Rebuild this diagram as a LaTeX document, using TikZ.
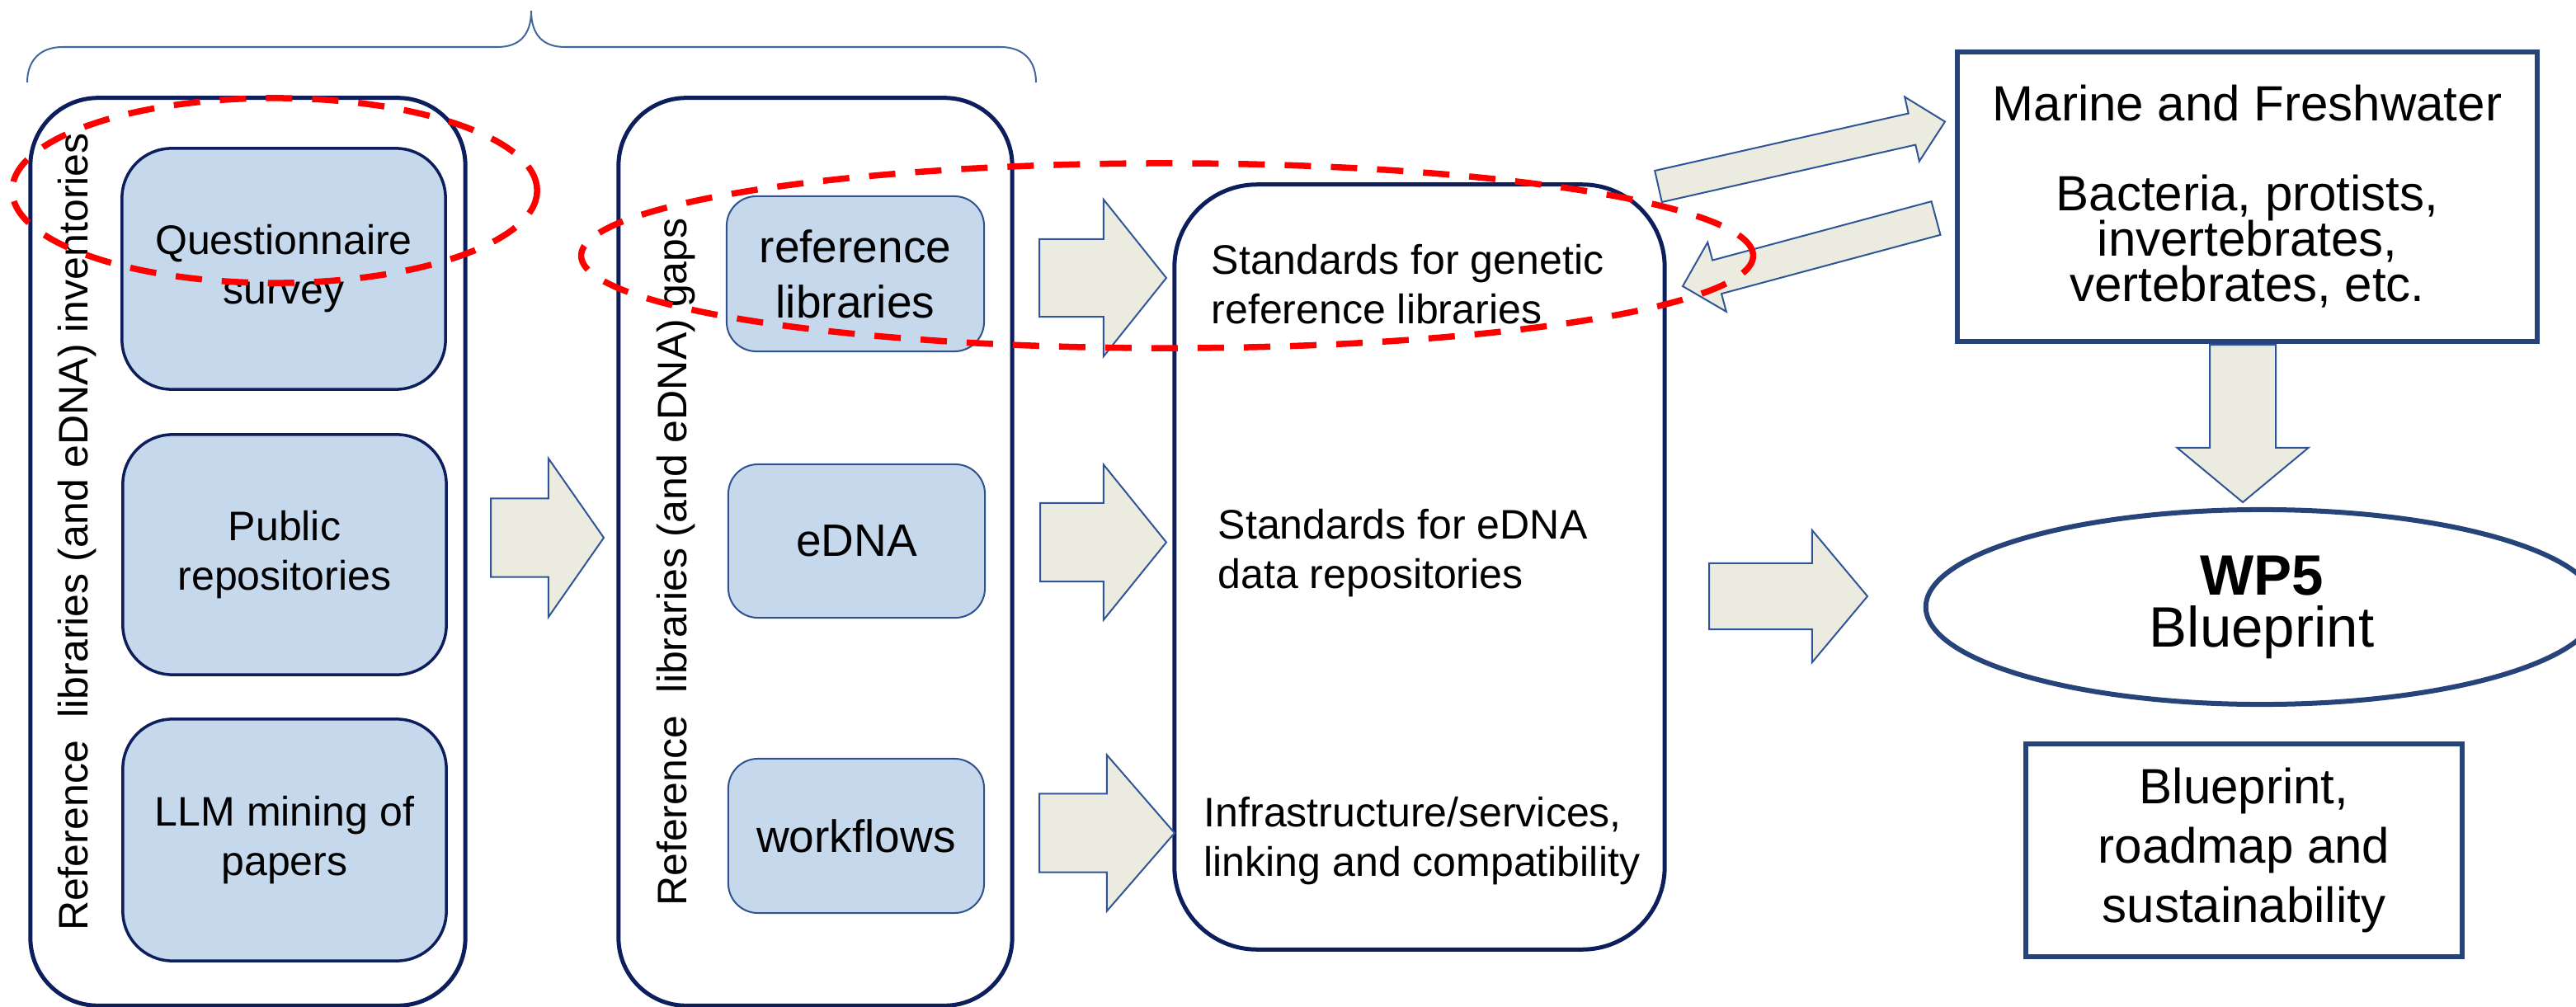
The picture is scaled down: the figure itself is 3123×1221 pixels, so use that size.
\documentclass[tikz,border=0pt]{standalone}
\usepackage{fontspec}
\setmainfont{Liberation Sans}
\usetikzlibrary{calc,shapes.geometric}

\definecolor{boxnavy}{RGB}{12,30,92}
\definecolor{itemfill}{RGB}{197,216,236}
\definecolor{gapline}{RGB}{47,82,143}
\definecolor{arrowfill}{RGB}{235,235,224}
\definecolor{arrowline}{RGB}{47,85,151}
\definecolor{framecol}{RGB}{38,68,122}
\definecolor{bracecol}{RGB}{65,103,156}
\definecolor{hlred}{RGB}{255,0,0}

% font size with a fixed baseline distance
\newcommand{\setfs}[2]{\fontsize{#1}{#2}\selectfont\lineskiplimit=-100pt\relax}

% block arrow from a tail point to a tip point:
% #3 half shaft width, #4 half head width, #5 head length
\newcommand{\blockarrow}[5]{%
  \coordinate (ba-base) at ($(#2)!#5!(#1)$);
  \draw[blockarrowstyle]
    ($(#1)!#3!90:(#2)$) -- ($(ba-base)!#3!90:(#2)$) -- ($(ba-base)!#4!90:(#2)$)
    -- (#2)
    -- ($(ba-base)!#4!-90:(#2)$) -- ($(ba-base)!#3!-90:(#2)$) -- ($(#1)!#3!-90:(#2)$)
    -- cycle;
}

\begin{document}
\begin{tikzpicture}[x=0.01cm, y=-0.01cm,
  colbox/.style={draw=boxnavy, line width=0.05cm, rounded corners=0.82cm, inner sep=0pt},
  itembox/.style={draw=boxnavy, line width=0.035cm, fill=itemfill, rounded corners=0.6cm,
    align=center, inner sep=0pt, font=\setfs{14.23pt}{17.07pt}},
  gapbox/.style={draw=gapline, line width=0.02cm, fill=itemfill, rounded corners=0.36cm,
    align=center, inner sep=0pt, font=\setfs{15.65pt}{19.06pt}},
  stdbox/.style={draw=boxnavy, line width=0.05cm, rounded corners=1cm, inner sep=0pt},
  stdtext/.style={anchor=base west, align=left, inner sep=0pt, font=\setfs{14.23pt}{16.93pt}},
  framebox/.style={draw=framecol, line width=0.06cm, align=center, inner sep=0pt},
  sidelabel/.style={rotate=90, anchor=base, inner sep=0pt, font=\setfs{14.23pt}{17pt}},
  blockarrowstyle/.style={draw=arrowline, fill=arrowfill, line width=0.02cm, line join=miter},
  highlight/.style={draw=hlred, line width=0.075cm, dash pattern=on 0.32cm off 0.24cm},
  bracestyle/.style={draw=bracecol, line width=0.02cm}
]
\path[use as bounding box, clip] (0,0) rectangle (3123,1221);

% curly brace over the first two columns
\draw[bracestyle] (33,100) .. controls (33,74) and (48,57) .. (76,57) -- (603,57)
  .. controls (630,57) and (644,42) .. (644,13)
  .. controls (644,42) and (658,57) .. (685,57) -- (1213,57)
  .. controls (1241,57) and (1256,74) .. (1256,100);

% column frames
\node[colbox, minimum width=5.27cm, minimum height=11.0cm] (col1) at (300.5,669) {};
\node[colbox, minimum width=4.77cm, minimum height=11.0cm] (col2) at (988.5,669) {};

% inventory sources
\node[itembox, minimum width=3.92cm, minimum height=2.92cm] (quest) at (344,326) {Questionnaire\\survey};
\node[itembox, minimum width=3.92cm, minimum height=2.91cm] (pubrepo) at (345,672.5) {Public\\repositories};
\node[itembox, minimum width=3.92cm, minimum height=2.93cm] (llm) at (345,1018.5) {LLM mining of\\papers};

% gap topics
\node[gapbox, minimum width=3.12cm, minimum height=1.88cm] (reflib) at (1037,332) {reference\\libraries};
\node[gapbox, minimum width=3.11cm, minimum height=1.86cm] (edna) at (1038.5,656) {eDNA};
\node[gapbox, minimum width=3.10cm, minimum height=1.87cm] (wflow) at (1038,1013.5) {workflows};

% vertical column titles
\node[sidelabel] (invlabel) at (106,645) {Reference\ \ libraries (and eDNA) inventories};
\node[sidelabel] (gaplabel) at (832,681.5) {Reference\ \ libraries (and eDNA) gaps};

% standards frame and its entries (anchored on the last line's baseline)
\node[stdbox, minimum width=5.94cm, minimum height=9.27cm] (std) at (1721,687.5) {};
\node[stdtext] (stdgen) at (1468,392.5) {Standards for genetic\\reference libraries};
\node[stdtext] (stdedna) at (1476,713) {Standards for eDNA\\data repositories};
\node[stdtext] (stdinfra) at (1459,1062) {Infrastructure/services,\\linking and compatibility};

% scope box
\node[framebox, minimum width=7.03cm, minimum height=3.51cm, font=\setfs{17.07pt}{15.65pt}] (marine)
  at (2724.5,238.5) {Marine and Freshwater\\[0.54cm]Bacteria, protists,\\invertebrates,\\vertebrates, etc.};

% blueprint
\node[draw=framecol, line width=0.06cm, ellipse, minimum width=8.14cm, minimum height=2.36cm,
  inner sep=0pt, align=center, font=\setfs{19.63pt}{17.93pt}] (wp5) at (2742,736) {\textbf{WP5}\\Blueprint};

\node[framebox, minimum width=5.29cm, minimum height=2.58cm, font=\setfs{17.07pt}{20.49pt}] (roadmap)
  at (2720.5,1031) {Blueprint,\\roadmap and\\sustainability};

% block arrows
\coordinate (inv-tail) at (595,652);   \coordinate (inv-tip) at (732,652);
\coordinate (gen-tail) at (1260,337);  \coordinate (gen-tip) at (1414,337);
\coordinate (edn-tail) at (1261,657.5); \coordinate (edn-tip) at (1414,657.5);
\coordinate (inf-tail) at (1260,1010); \coordinate (inf-tip) at (1424,1010);
\coordinate (out-tail) at (2010.5,226); \coordinate (out-tip) at (2358,147.5);
\coordinate (back-tail) at (2347,264.5); \coordinate (back-tip) at (2040,347);
\coordinate (bp-tail) at (2072,723);   \coordinate (bp-tip) at (2264,723);
\coordinate (mf-tail) at (2719,418);   \coordinate (mf-tip) at (2719,609);

\blockarrow{inv-tail}{inv-tip}{0.475cm}{0.96cm}{0.67cm}
\blockarrow{gen-tail}{gen-tip}{0.47cm}{0.95cm}{0.76cm}
\blockarrow{edn-tail}{edn-tip}{0.475cm}{0.94cm}{0.76cm}
\blockarrow{inf-tail}{inf-tip}{0.475cm}{0.945cm}{0.82cm}
\blockarrow{out-tail}{out-tip}{0.195cm}{0.40cm}{0.41cm}
\blockarrow{back-tail}{back-tip}{0.21cm}{0.435cm}{0.43cm}
\blockarrow{bp-tail}{bp-tip}{0.40cm}{0.80cm}{0.67cm}
\blockarrow{mf-tail}{mf-tip}{0.40cm}{0.795cm}{0.66cm}

% red dashed highlights
\draw[highlight] (333,231) ellipse [x radius=3.18cm, y radius=1.12cm];
\draw[highlight] (1415,310) ellipse [x radius=7.10cm, y radius=1.12cm];
\end{tikzpicture}
\end{document}
